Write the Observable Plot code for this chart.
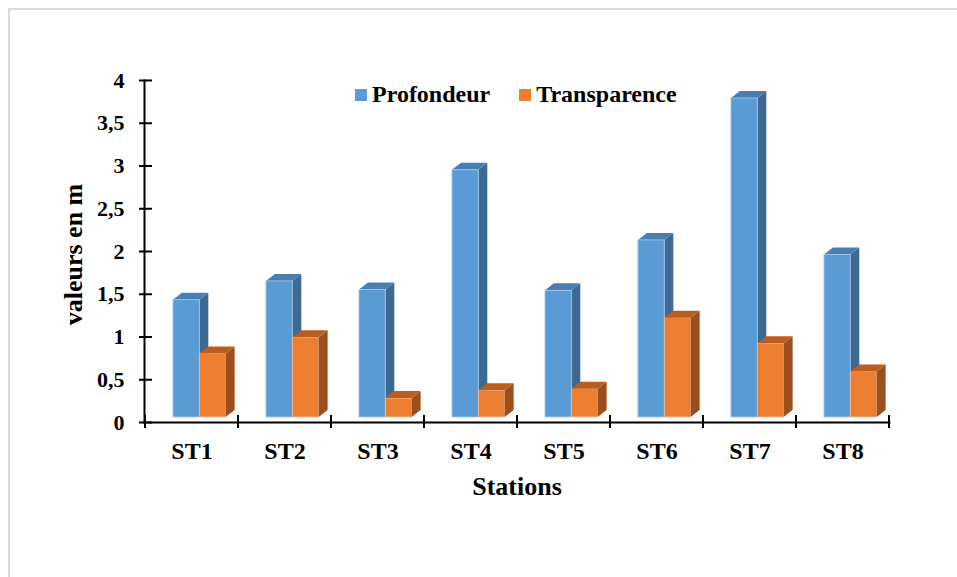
<!DOCTYPE html>
<html>
<head>
<meta charset="utf-8">
<script src="https://cdn.jsdelivr.net/npm/d3@7"></script>
<script src="https://cdn.jsdelivr.net/npm/@observablehq/plot@0.6"></script>
<style>
  html, body { margin: 0; padding: 0; background: #fff; overflow: hidden; }
  #wrap { position: relative; width: 957px; height: 577px; overflow: hidden; }
  #border { position: absolute; left: 8px; top: 8px; width: 1000px; height: 1000px; border: 2px solid #d9d9d9; pointer-events: none; }
  #legend { position: absolute; left: 355px; top: 81px; font-family: "Liberation Serif", "Times New Roman", Times, serif; font-weight: bold; font-size: 24px; color: #000; display: flex; align-items: center; white-space: nowrap; }
  #legend .sw { display: inline-block; width: 12px; height: 12px; margin-right: 5px; }
  #legend .item { display: flex; align-items: center; }
  svg { position: absolute; left: 0; top: 0; }
</style>
</head>
<body>
<div id="wrap">
  <div id="chart"></div>
  <div id="legend"></div>
  <div id="border"></div>
</div>
<script>
// ---- data ----
const stations = ["ST1", "ST2", "ST3", "ST4", "ST5", "ST6", "ST7", "ST8"];
const profondeur = [1.43, 1.65, 1.55, 2.95, 1.54, 2.13, 3.79, 1.96];
const transparence = [0.80, 0.99, 0.28, 0.37, 0.39, 1.22, 0.92, 0.59];
const seriesNames = ["Profondeur", "Transparence"];
const yTicks = [0, 0.5, 1, 1.5, 2, 2.5, 3, 3.5, 4];

// ---- styling ----
const FONT = "'Liberation Serif', 'Times New Roman', Times, serif";
const colors = {
  Profondeur: { front: "#5B9BD5", side: "#3D6A93", top: "#4A7DB0", edge: "#A9CBEA" },
  Transparence: { front: "#ED7D31", side: "#9C4F1C", top: "#BA5E20", edge: "#F6BE98" }
};
const W = 957, H = 577;
const mL = 144, mR = 68, mT = 80, mB = 155;
const BW = (W - mL - mR) / stations.length;
const DX = 9, DY = 7, LIFT = 5;
const frac = { Profondeur: [0.30, 0.584], Transparence: [0.584, 0.867] };

const rows = (vals) => stations.map((s, i) => ({ station: s, value: vals[i] }));
const dataP = rows(profondeur);
const dataT = rows(transparence);

function faces3D(vals, name) {
  return (index, scales) => {
    const x = scales.x, y = scales.y;
    const bw = typeof x.bandwidth === "function" ? x.bandwidth() : BW;
    const g = d3.create("svg:g");
    const [f0, f1] = frac[name];
    stations.forEach((s, i) => {
      const xl = x(s) + f0 * bw, xr = x(s) + f1 * bw;
      const yt = y(vals[i]), yb = y(0) - LIFT;
      g.append("path")
        .attr("d", `M${xr},${yb}L${xr + DX},${yb - DY}L${xr + DX},${yt - DY}L${xr},${yt}Z`)
        .attr("fill", colors[name].side);
      g.append("path")
        .attr("d", `M${xl},${yt}L${xl + DX},${yt - DY}L${xr + DX},${yt - DY}L${xr},${yt}Z`)
        .attr("fill", colors[name].top);
    });
    return g.node();
  };
}

function xTicks(index, scales) {
  const x = scales.x, y = scales.y;
  const bw = typeof x.bandwidth === "function" ? x.bandwidth() : BW;
  const g = d3.create("svg:g").attr("stroke", "#000").attr("stroke-width", 2);
  const x0 = x(stations[0]);
  for (let i = 0; i <= stations.length; i++) {
    const xx = x0 + i * bw;
    g.append("line").attr("x1", xx).attr("x2", xx).attr("y1", y(0) - 7).attr("y2", y(0) + 6);
  }
  return g.node();
}

function frontBar(data, name) {
  const [f0, f1] = frac[name];
  return Plot.barY(data, {
    x: "station", y: "value", fill: colors[name].front,
    stroke: colors[name].edge, strokeWidth: 0.8,
    insetLeft: f0 * BW, insetRight: (1 - f1) * BW, insetBottom: LIFT
  });
}

const chart = Plot.plot({
  width: W, height: H,
  marginLeft: mL, marginRight: mR, marginTop: mT, marginBottom: mB,
  style: { fontFamily: FONT, color: "#000", background: "transparent", overflow: "visible" },
  x: { type: "band", domain: stations, padding: 0, axis: null },
  y: { domain: [0, 4], axis: null },
  marks: [
    faces3D(profondeur, "Profondeur"),
    frontBar(dataP, "Profondeur"),
    frontBar(dataT, "Transparence"),
    faces3D(transparence, "Transparence"),
    Plot.frame({ anchor: "left", stroke: "#000", strokeWidth: 2 }),
    Plot.frame({ anchor: "bottom", stroke: "#000", strokeWidth: 2 }),
    Plot.axisY({
      ticks: yTicks, tickFormat: d => String(d).replace(".", ","),
      tickSize: 13, tickPadding: 15, dx: 8, strokeWidth: 2,
      fontSize: 22, fontWeight: "bold", fontFamily: FONT, label: null
    }),
    Plot.axisX({
      tickSize: 0, tickPadding: 19, fontSize: 24, fontWeight: "bold", fontFamily: FONT, label: null
    }),
    xTicks,
    Plot.text(["valeurs en m"], {
      frameAnchor: "left", rotate: -90, dx: -71, dy: 3,
      textAnchor: "middle", lineAnchor: "middle",
      fontSize: 26, fontWeight: "bold", fontFamily: FONT, fill: "#000"
    }),
    Plot.text(["Stations"], {
      frameAnchor: "bottom", dy: 64, lineAnchor: "middle",
      fontSize: 26, fontWeight: "bold", fontFamily: FONT, fill: "#000"
    })
  ]
});
document.getElementById("chart").appendChild(chart);

// legend
const legend = document.getElementById("legend");
seriesNames.forEach((n, i) => {
  const item = document.createElement("span");
  item.className = "item";
  if (i > 0) item.style.marginLeft = "29px";
  const sw = document.createElement("span");
  sw.className = "sw";
  sw.style.background = colors[n].front;
  item.appendChild(sw);
  item.appendChild(document.createTextNode(n));
  legend.appendChild(item);
});
</script>
</body>
</html>
